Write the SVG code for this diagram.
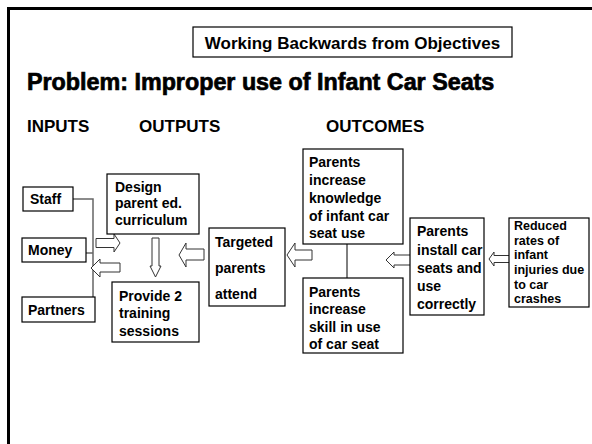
<svg xmlns="http://www.w3.org/2000/svg" width="592" height="444" viewBox="0 0 592 444">
<style>
.t{font-family:"Liberation Sans",Arial,sans-serif;font-weight:bold;fill:#000}
.b{font-size:14px}
.s{font-size:12.5px}
.h{font-size:17px}
.box{fill:#fff;stroke:#000;stroke-width:1.2}
.arr{fill:#fff;stroke:#333;stroke-width:1}
.ln{fill:none;stroke:#666;stroke-width:1.5}
</style>
<rect x="0" y="0" width="592" height="444" fill="#fff"/>
<path d="M8.5,450 V8.5 H600" fill="none" stroke="#000" stroke-width="3"/>
<g id="header">
<rect x="193" y="27" width="319" height="30" class="box"/>
<text x="352.5" y="49" text-anchor="middle" class="t h">Working Backwards from Objectives</text>
</g>
<text x="27" y="90" class="t" font-size="23.3" stroke="#000" stroke-width="0.7">Problem: Improper use of Infant Car Seats</text>
<text x="27" y="132" class="t h">INPUTS</text>
<text x="139" y="132" class="t h">OUTPUTS</text>
<text x="326" y="132" class="t h">OUTCOMES</text>
<g id="connectors">
<path class="ln" d="M73,199 H93 V297 M78,253 H93"/>
<line x1="347" y1="244" x2="347" y2="278" stroke="#000" stroke-width="1"/>
<polygon class="arr" points="96,238.5 114,238.5 114,234 120,243 114,252 114,247.5 96,247.5"/>
<polygon class="arr" points="120,263 100,263 100,259 91,268 100,277 100,272 120,272"/>
<polygon class="arr" points="152,238 159,238 159,266 161,266 155.5,277 150,266 152,266"/>
<polygon class="arr" points="204,249 186,249 186,243 179,255 186,267 186,260 204,260"/>
<polygon class="arr" points="312,250 295,250 295,243 287,255 295,267 295,260 312,260"/>
<polygon class="arr" points="411,255 394,255 394,252 386,260 394,268 394,265 411,265"/>
<polygon class="arr" points="510,255.5 494,255.5 494,252 489,259 494,266 494,262.5 510,262.5"/>
</g>
<g id="staff"><rect x="23" y="187" width="50" height="24" class="box"/><text x="30" y="204" class="t b">Staff</text></g>
<g id="money"><rect x="22" y="238" width="64" height="24" class="box"/><text x="28" y="255" class="t b">Money</text></g>
<g id="partners"><rect x="22" y="297" width="73" height="25" class="box"/><text x="28" y="315" class="t b">Partners</text></g>
<g id="design"><rect x="107" y="174" width="92" height="60" class="box"/>
<text class="t b"><tspan x="115" y="192">Design</tspan><tspan x="115" y="208">parent ed.</tspan><tspan x="115" y="225">curriculum</tspan></text></g>
<g id="provide"><rect x="112" y="282" width="87" height="60" class="box"/>
<text class="t b"><tspan x="119" y="301">Provide 2</tspan><tspan x="119" y="318">training</tspan><tspan x="119" y="336">sessions</tspan></text></g>
<g id="targeted"><rect x="209" y="228" width="76" height="78" class="box"/>
<text class="t b"><tspan x="215" y="247">Targeted</tspan><tspan x="215" y="273">parents</tspan><tspan x="215" y="299">attend</tspan></text></g>
<g id="knowledge"><rect x="303" y="149" width="100" height="95" class="box"/>
<text class="t b"><tspan x="309" y="167">Parents</tspan><tspan x="309" y="185">increase</tspan><tspan x="309" y="203">knowledge</tspan><tspan x="309" y="221">of infant car</tspan><tspan x="309" y="238">seat use</tspan></text></g>
<g id="skill"><rect x="303" y="278" width="100" height="75" class="box"/>
<text class="t b"><tspan x="309" y="297">Parents</tspan><tspan x="309" y="314">increase</tspan><tspan x="309" y="332">skill in use</tspan><tspan x="309" y="349">of car seat</tspan></text></g>
<g id="install"><rect x="410" y="218" width="74" height="97" class="box"/>
<text class="t b"><tspan x="417" y="236">Parents</tspan><tspan x="417" y="255">install car</tspan><tspan x="417" y="273">seats and</tspan><tspan x="417" y="291">use</tspan><tspan x="417" y="309">correctly</tspan></text></g>
<g id="reduced"><rect x="509" y="218" width="80" height="89" class="box"/>
<text class="t s"><tspan x="514" y="230">Reduced</tspan><tspan x="514" y="245">rates of</tspan><tspan x="514" y="259">infant</tspan><tspan x="514" y="274">injuries due</tspan><tspan x="514" y="289">to car</tspan><tspan x="514" y="303">crashes</tspan></text></g>
</svg>
